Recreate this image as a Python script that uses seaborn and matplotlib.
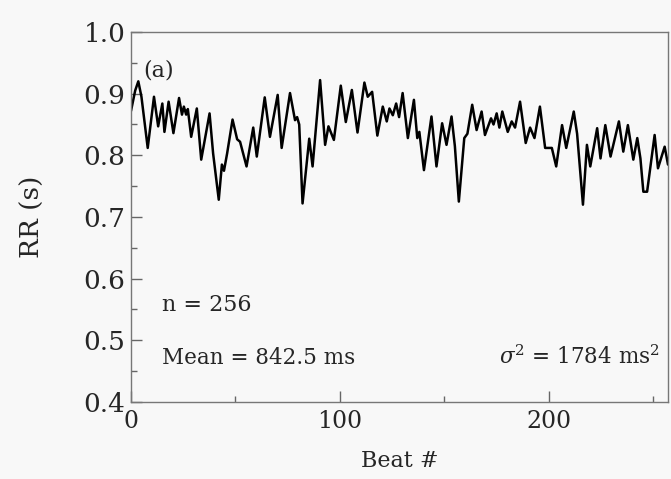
import numpy as np
import matplotlib.pyplot as plt
import seaborn as sns
from matplotlib.ticker import MultipleLocator

# vertices of the RR tachogram (beat #, RR in s)
beat = [0, 2, 3.5, 5, 8, 11, 13, 15, 16, 18, 20.3, 23, 24.4, 25.3, 26.4, 27.2, 28.8, 31.5, 33.6, 37.6,
        39.3, 42, 43.5, 44.5, 46, 48.6, 50.8, 52.2, 55.3, 58.5, 60.2, 64, 66.5, 70.2, 72.1, 76.1, 78.5,
        79.5, 80.5, 82.1, 85.3, 86.9, 90.5, 92.9, 94.5, 97.1, 100.4, 102.8, 105.7, 108.4, 111.7, 113.3,
        115.4, 117.9, 120.5, 122.4, 123.7, 125.3, 126.9, 128.3, 130, 132.5, 135.4, 137, 138, 140.2,
        143.8, 146.2, 148.9, 151, 153.4, 155, 156.9, 159.5, 161, 163.3, 165.4, 167.8, 169.4, 172.3,
        173.5, 175, 176.3, 177.7, 180.3, 182.2, 183.8, 186.2, 188.9, 191, 193.1, 195.7, 198.2, 201.4,
        203.5, 206.3, 208.3, 211.9, 213.5, 216.3, 218.2, 219.8, 223.1, 224.7, 227, 229.5, 233.5, 235.6,
        237.8, 240.4, 242.3, 243.8, 245.2, 247, 250.6, 252.2, 255.4, 257]
rr = [0.872, 0.905, 0.920, 0.895, 0.812, 0.895, 0.847, 0.884, 0.838, 0.887, 0.836, 0.893, 0.866, 0.879,
      0.866, 0.875, 0.830, 0.876, 0.793, 0.868, 0.803, 0.728, 0.785, 0.775, 0.803, 0.858, 0.826, 0.822,
      0.782, 0.845, 0.798, 0.894, 0.830, 0.898, 0.812, 0.901, 0.857, 0.862, 0.850, 0.722, 0.827, 0.782,
      0.922, 0.817, 0.847, 0.825, 0.913, 0.854, 0.906, 0.837, 0.918, 0.895, 0.903, 0.832, 0.879, 0.855,
      0.876, 0.865, 0.884, 0.862, 0.901, 0.828, 0.890, 0.828, 0.838, 0.776, 0.863, 0.782, 0.852, 0.817,
      0.863, 0.815, 0.725, 0.828, 0.835, 0.882, 0.841, 0.871, 0.833, 0.860, 0.850, 0.868, 0.845, 0.871,
      0.838, 0.855, 0.845, 0.887, 0.820, 0.845, 0.828, 0.879, 0.812, 0.812, 0.782, 0.849, 0.812, 0.871,
      0.835, 0.720, 0.817, 0.782, 0.844, 0.795, 0.849, 0.798, 0.855, 0.806, 0.849, 0.793, 0.828, 0.795,
      0.741, 0.741, 0.833, 0.779, 0.814, 0.785]

n_beats = 256
mean_ms = 842.5
var_ms2 = 1784

sns.set_style('ticks')
plt.rcParams['font.family'] = ['DejaVu Serif']
plt.rcParams['mathtext.fontset'] = 'dejavuserif'
plt.rcParams['xtick.direction'] = 'in'
plt.rcParams['ytick.direction'] = 'in'

fig, ax = plt.subplots(figsize=(6.71, 4.79), dpi=100)
fig.patch.set_facecolor('#f8f8f8')
ax.set_facecolor('#f8f8f8')
fig.subplots_adjust(left=131 / 671, right=668 / 671, top=1 - 32 / 479, bottom=1 - 402 / 479)

sns.lineplot(x=beat, y=rr, color='black', linewidth=1.8, ax=ax, sort=False)

ax.set_xlim(0, 257)
ax.set_ylim(0.4, 1.0)
ax.xaxis.set_major_locator(MultipleLocator(100))
ax.xaxis.set_minor_locator(MultipleLocator(50))
ax.yaxis.set_major_locator(MultipleLocator(0.1))
ax.yaxis.set_minor_locator(MultipleLocator(0.05))
ax.yaxis.set_major_formatter(plt.FormatStrFormatter('%.1f'))
ax.tick_params(which='major', length=8, width=1, color='#666', pad=6)
ax.tick_params(which='minor', length=4, width=1, color='#666')
ax.tick_params(axis='x', labelsize=17)
ax.tick_params(axis='y', labelsize=19, pad=4)
for s in ax.spines.values():
    s.set_color('#777')
    s.set_linewidth(1)

ax.set_xlabel('Beat #', fontsize=16, labelpad=12)
ax.set_ylabel('RR (s)', fontsize=19, labelpad=28)

ax.text(6, 0.938, '(a)', fontsize=16, va='center', ha='left')
ax.text(15, 0.558, 'n = %d' % n_beats, fontsize=16, va='center')
ax.text(15, 0.472, 'Mean = %.1f ms' % mean_ms, fontsize=15.5, va='center')
ax.text(253, 0.472, r'$\sigma^2$ = %d ms$^2$' % var_ms2, fontsize=15.5, va='center', ha='right')

plt.savefig('out.png', dpi=100, facecolor=fig.get_facecolor())
